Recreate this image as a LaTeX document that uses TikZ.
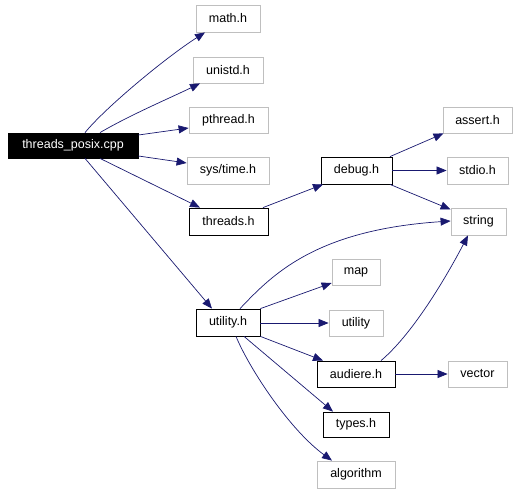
\documentclass[tikz,border=0pt]{standalone}
\usepackage{fontspec}
\setmainfont{Liberation Sans}
\usetikzlibrary{arrows.meta,calc}
\definecolor{edgeblue}{HTML}{191970}
\definecolor{extgray}{HTML}{BFBFBF}
\begin{document}
\begin{tikzpicture}[x=1pt,y=-1pt,
  box/.style={draw, line width=0.8pt, inner sep=0pt, font=\fontsize{12.5}{14}\selectfont},
  ext/.style={box, draw=extgray},
  int/.style={box, draw=black},
  root/.style={box, draw=black, fill=black, text=white},
  dep/.style={draw=edgeblue, line width=0.7pt, -{Triangle[length=10pt,width=8pt]}, fill=none},
  dep/.append style={arrows={-{Triangle[length=10pt,width=8pt,fill=edgeblue]}}}]
\useasboundingbox (0,0) rectangle (517,493);
\node[root, minimum width=130pt, minimum height=25pt] (tp) at (73,145.5) {threads\_posix.cpp};
\node[ext, minimum width=64pt, minimum height=27pt] (math) at (228,18.5) {math.h};
\node[ext, minimum width=70pt, minimum height=26pt] (unistd) at (228,70) {unistd.h};
\node[ext, minimum width=79pt, minimum height=26pt] (pthread) at (228.5,120) {pthread.h};
\node[ext, minimum width=82pt, minimum height=27pt] (systime) at (228,170.5) {sys/time.h};
\node[int, minimum width=79pt, minimum height=27pt] (threads) at (228.5,221.5) {threads.h};
\node[int, minimum width=71pt, minimum height=27pt] (debug) at (356.5,170.5) {debug.h};
\node[ext, minimum width=69pt, minimum height=26pt] (assert) at (477.5,120) {assert.h};
\node[ext, minimum width=61pt, minimum height=27pt] (stdio) at (477.5,170.5) {stdio.h};
\node[ext, minimum width=55pt, minimum height=27pt] (string) at (478.5,221.5) {string};
\node[ext, minimum width=48pt, minimum height=26pt] (map) at (356,272) {map};
\node[int, minimum width=64pt, minimum height=27pt] (utilh) at (228,322.5) {utility.h};
\node[ext, minimum width=54pt, minimum height=26pt] (utility) at (356,323) {utility};
\node[int, minimum width=78pt, minimum height=26pt] (audiere) at (356,374) {audiere.h};
\node[ext, minimum width=59pt, minimum height=26pt] (vector) at (477.5,374) {vector};
\node[int, minimum width=66pt, minimum height=25pt] (types) at (356,424.5) {types.h};
\node[ext, minimum width=78pt, minimum height=27pt] (algorithm) at (356,474.5) {algorithm};

% threads_posix.cpp
\draw[dep] ($(tp.north)+(12,0)$) .. controls (105,108) and (165,58) .. ($(math.south)+(-23,0)$);
\draw[dep] ($(tp.north)+(27,0)$) .. controls (130,115) and (170,98) .. ($(unistd.south)+(-28,0)$);
\draw[dep] ($(tp.east)+(0,-10.5)$) -- ($(pthread.west)+(0,8)$);
\draw[dep] ($(tp.east)+(0,10.5)$) -- ($(systime.west)+(0,-7.5)$);
\draw[dep] ($(tp.south)+(27,0)$) -- ($(threads.north)+(-28.5,0)$);
\draw[dep] ($(tp.south)+(12,0)$) -- ($(utilh.north)+(-16,0)$);
% threads.h
\draw[dep] ($(threads.north)+(34.5,0)$) -- ($(debug.south)+(-33.5,0)$);
% debug.h
\draw[dep] ($(debug.north)+(33.5,0)$) -- ($(assert.south)+(-34,0)$);
\draw[dep] (debug.east) -- (stdio.west);
\draw[dep] ($(debug.south)+(33.5,0)$) -- ($(string.west)+(0,-12)$);
% utility.h
\draw[dep] ($(utilh.north)+(12,0)$) .. controls (272,275) and (315,230) .. ($(string.west)+(0,-0.5)$);
\draw[dep] (utilh.north east) -- ($(map.west)+(0,11)$);
\draw[dep] ($(utilh.east)+(0,0.5)$) -- (utility.west);
\draw[dep] (utilh.south east) -- ($(audiere.north)+(-33,0)$);
\draw[dep] ($(utilh.south)+(16,0)$) -- ($(types.north)+(-23,0)$);
\draw[dep] ($(utilh.south)+(8,0)$) .. controls (250,370) and (290,430) .. ($(algorithm.north)+(-24,0)$);
% audiere.h
\draw[dep] ($(audiere.north)+(25,0)$) .. controls (415,332) and (450,270) .. ($(string.south)+(-10.5,0)$);
\draw[dep] (audiere.east) -- (vector.west);
\end{tikzpicture}
\end{document}
